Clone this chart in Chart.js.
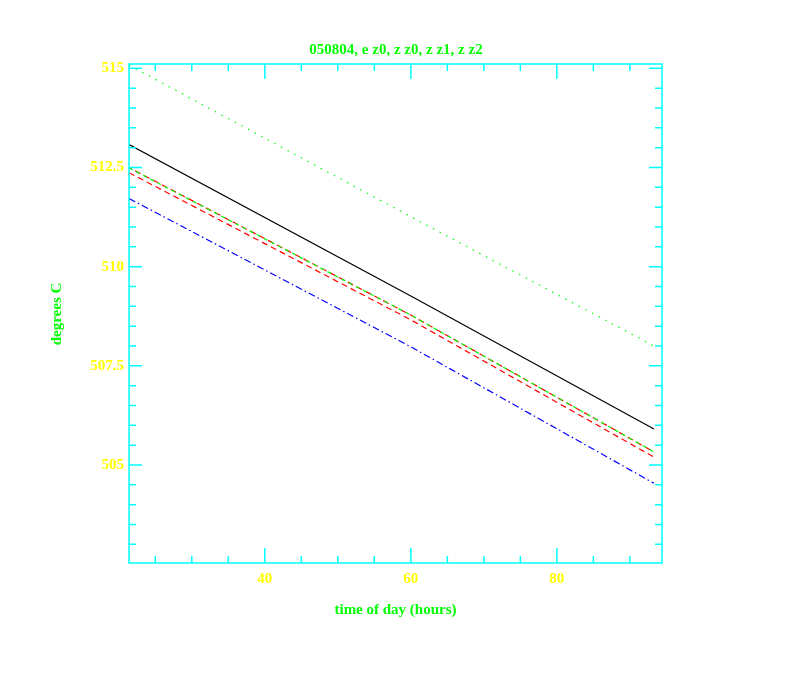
<!DOCTYPE html>
<html>
<head>
<meta charset="utf-8">
<script src="https://cdn.jsdelivr.net/npm/chart.js@4/dist/chart.umd.min.js"></script>
<style>
  html, body { margin: 0; background: #fff; }
  #wrap { width: 792px; height: 684px; }
</style>
</head>
<body>
<div id="wrap"><canvas id="chart"></canvas></div>
<script>
// time of day (hours) — start, middle, end of each trace
const hours = [21.4, 60, 93.3];

// temperature traces (degrees C)
const topDotted = [515.08, 511.26, 508.0];   // green dotted
const blackSolid = [513.08, 509.26, 505.91]; // black solid
const greenDashed = [512.49, 508.78, 505.33]; // green dashed
const redUpper = [512.5, 508.78, 505.33];    // red dashed (upper trace)
const redLower = [512.37, 508.66, 505.2];    // red dashed (lower trace)
const blueDashDot = [511.72, 507.98, 504.54]; // blue dash-dot

// tick labels
const xTicks = [40, 60, 80];
const yTicks = [505, 507.5, 510, 512.5, 515];

const axisColor = "#00ffff";
const labelColor = "#ffff00";
const titleColor = "#00ff00";
const fontFamily = "'Liberation Serif', 'DejaVu Serif', serif";

function pts(ys) {
  return hours.map((h, i) => ({ x: h, y: ys[i] }));
}

// frame, inward ticks, plot title and axis titles
const frameTicks = {
  id: "frameTicks",
  afterDatasetsDraw(chart) {
    const { ctx, chartArea: a, scales: { x, y } } = chart;
    ctx.save();
    ctx.strokeStyle = axisColor;
    ctx.lineWidth = 1.5;
    ctx.strokeRect(a.left, a.top, a.right - a.left, a.bottom - a.top);
    ctx.beginPath();
    for (let v = 25; v <= 90; v += 5) {
      const px = x.getPixelForValue(v);
      const len = v % 20 === 0 ? 15 : 7;
      ctx.moveTo(px, a.bottom); ctx.lineTo(px, a.bottom - len);
      ctx.moveTo(px, a.top); ctx.lineTo(px, a.top + len);
    }
    for (let v = 503; v <= 515; v += 0.5) {
      const py = y.getPixelForValue(v);
      const len = v % 2.5 === 0 ? 13 : 7;
      ctx.moveTo(a.left, py); ctx.lineTo(a.left + len, py);
      ctx.moveTo(a.right, py); ctx.lineTo(a.right - len, py);
    }
    ctx.stroke();

    ctx.fillStyle = titleColor;
    ctx.font = "bold 15px " + fontFamily;
    ctx.textAlign = "center";
    ctx.textBaseline = "middle";
    ctx.fillText("050804, e z0, z z0, z z1, z z2", 396, 50);
    ctx.fillText("time of day (hours)", (a.left + a.right) / 2, 610);
    ctx.translate(57, 314);
    ctx.rotate(-Math.PI / 2);
    ctx.fillText("degrees C", 0, 0);
    ctx.restore();
  }
};

const ctx = document.getElementById("chart").getContext("2d");
const chart = new Chart(ctx, {
  type: "line",
  data: {
    datasets: [
      { data: pts(topDotted), borderColor: "#00ff00", borderDash: [1.5, 6] },
      { data: pts(blackSolid), borderColor: "#000000" },
      { data: pts(greenDashed), borderColor: "#00ff00", borderDash: [4, 4] },
      { data: pts(redUpper), borderColor: "#ff0000", borderDash: [6, 4], borderDashOffset: 3 },
      { data: pts(redLower), borderColor: "#ff0000", borderDash: [6, 4] },
      { data: pts(blueDashDot), borderColor: "#0000ff", borderDash: [7, 3, 1.5, 3] },
    ],
  },
  options: {
    responsive: true,
    maintainAspectRatio: false,
    animation: false,
    elements: {
      line: { borderWidth: 1.2, tension: 0 },
      point: { radius: 0 },
    },
    layout: { padding: { left: 0, right: 130, top: 64, bottom: 0 } },
    plugins: {
      legend: { display: false },
      tooltip: { enabled: false },
      title: { display: false },
    },
    scales: {
      x: {
        type: "linear",
        min: 21.4,
        max: 94.4,
        grid: { display: false, drawTicks: false },
        border: { display: false },
        afterBuildTicks: (s) => { s.ticks = xTicks.map((v) => ({ value: v })); },
        afterFit: (s) => { s.height = 121; },
        ticks: {
          color: labelColor,
          padding: 7,
          maxRotation: 0,
          font: { family: fontFamily, size: 15, weight: "bold" },
          callback: (v) => String(v),
        },
      },
      y: {
        type: "linear",
        min: 502.53,
        max: 515.11,
        grid: { display: false, drawTicks: false },
        border: { display: false },
        afterBuildTicks: (s) => { s.ticks = yTicks.map((v) => ({ value: v })); },
        afterFit: (s) => { s.width = 129; },
        ticks: {
          color: labelColor,
          padding: 5,
          font: { family: fontFamily, size: 15, weight: "bold" },
          callback: (v) => String(v),
        },
      },
    },
  },
  plugins: [frameTicks],
});
</script>
</body>
</html>
